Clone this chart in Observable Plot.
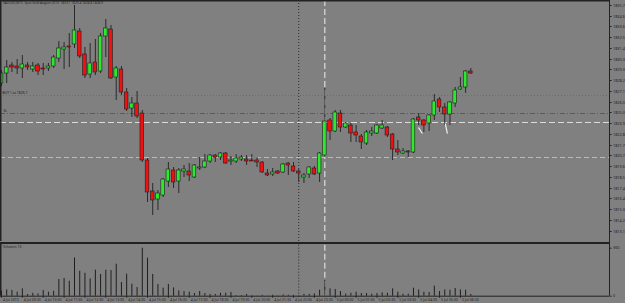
<!DOCTYPE html>
<html><head><meta charset="utf-8">
<script src="https://cdn.jsdelivr.net/npm/d3@7"></script>
<script src="https://cdn.jsdelivr.net/npm/@observablehq/plot@0.6"></script>
<style>
html,body{margin:0;padding:0;background:#808080;}
#chart{position:relative;width:625px;height:303px;overflow:hidden;background:#808080;font-family:"Liberation Sans",Arial,sans-serif;}
#chart svg{display:block;position:absolute;left:0;}
</style></head><body><div id="chart"></div>
<script>
// ---- data ----
const opens = [1827.9,1828.9,1829.7,1829.6,1829.4,1829.7,1829.3,1829.7,1829.4,1829.4,
1829.6,1830.4,1831.3,1831.6,1831.8,1833.1,1830.8,1828.8,1830.0,1829.1,
1832.6,1833.3,1828.5,1829.3,1827.0,1825.4,1825.9,1824.9,1820.2,1817.1,
1816.3,1816.7,1818.1,1819.2,1818.1,1819.1,1819.1,1818.5,1819.4,1819.5,
1820.1,1820.7,1820.5,1820.9,1820.1,1820.1,1820.3,1820.3,1820.2,1820.2,
1820.0,1818.9,1818.8,1819.1,1819.0,1819.9,1819.6,1819.1,1818.5,1818.8,
1819.4,1818.9,1820.7,1824.2,1823.1,1824.9,1823.5,1823.7,1823.0,1822.6,
1821.9,1822.9,1822.9,1823.4,1823.5,1822.8,1821.3,1820.9,1821.1,1821.0,
1824.5,1824.2,1823.9,1824.7,1826.3,1825.5,1824.8,1825.9,1827.3,1827.5,
1829.1];
const highs = [1829.2,1830.2,1830.0,1830.3,1830.7,1830.0,1830.0,1829.9,1829.9,1829.9,
1830.7,1832.1,1832.0,1832.9,1835.7,1833.4,1831.5,1831.9,1832.3,1832.9,
1834.3,1833.7,1829.6,1829.6,1827.4,1826.5,1827.1,1825.2,1820.4,1817.9,
1817.2,1818.4,1820.0,1819.5,1819.4,1819.7,1819.9,1819.8,1820.5,1820.8,
1820.8,1820.8,1821.0,1821.0,1820.6,1820.8,1820.7,1820.7,1820.8,1820.5,
1820.1,1819.3,1819.4,1819.2,1819.9,1820.0,1820.0,1819.3,1818.9,1819.6,
1819.6,1821.0,1827.4,1824.4,1825.2,1825.2,1824.0,1823.9,1823.7,1822.8,
1823.2,1823.5,1823.8,1824.2,1823.6,1822.9,1822.2,1821.4,1821.2,1824.4,
1824.9,1824.3,1824.8,1826.8,1826.5,1825.9,1826.1,1827.5,1828.5,1829.2,
1829.4];
const lows = [1827.6,1827.9,1829.0,1828.8,1828.4,1829.2,1829.0,1828.7,1828.7,1829.1,
1829.4,1830.0,1829.3,1829.5,1831.4,1830.4,1828.4,1828.4,1828.7,1828.9,
1830.5,1828.3,1826.2,1826.7,1825.1,1824.5,1824.4,1820.0,1816.0,1814.7,
1815.2,1816.5,1817.5,1817.4,1816.9,1818.5,1818.1,1818.4,1819.2,1819.4,
1819.9,1820.0,1820.2,1819.8,1819.7,1819.9,1820.1,1819.7,1820.1,1819.5,
1818.9,1818.6,1818.6,1818.8,1818.9,1818.7,1819.0,1818.0,1817.9,1818.4,
1818.7,1818.0,1820.5,1822.2,1823.0,1823.0,1823.4,1822.0,1822.0,1821.3,
1821.7,1822.6,1822.8,1823.3,1822.5,1820.2,1820.7,1820.8,1820.5,1820.9,
1823.7,1823.0,1823.1,1824.2,1825.0,1823.7,1823.7,1825.5,1827.2,1826.9,
1828.8];
const closes = [1828.9,1829.5,1829.5,1829.4,1829.8,1829.5,1829.6,1829.1,1829.3,1829.6,
1830.5,1831.4,1831.5,1831.5,1833.2,1830.6,1828.7,1829.9,1829.0,1832.6,
1833.4,1828.4,1829.4,1827.0,1825.3,1825.9,1824.6,1820.2,1817.0,1816.2,
1816.9,1818.3,1819.3,1818.0,1819.2,1819.3,1818.7,1819.7,1819.5,1820.1,
1820.7,1820.5,1820.9,1819.9,1820.2,1820.4,1820.5,1820.1,1820.1,1820.0,
1819.0,1818.7,1819.0,1818.9,1819.8,1819.7,1819.1,1818.9,1818.7,1819.5,
1818.8,1820.9,1824.1,1823.1,1825.0,1823.5,1823.9,1822.9,1822.7,1822.0,
1823.0,1823.1,1823.7,1823.7,1822.7,1821.3,1821.0,1821.1,1821.0,1824.3,
1824.2,1823.7,1824.7,1826.1,1825.5,1824.8,1826.0,1827.2,1827.5,1829.1,
1828.9];
const volumes = [37,47,43,30,55,13,22,17,43,30,
37,125,133,112,287,187,172,130,195,163,
195,192,240,103,165,90,65,360,285,163,
88,60,88,62,40,35,30,20,35,20,
13,13,22,22,28,5,5,13,2,2,
7,2,7,2,10,7,7,2,14,14,
17,45,118,55,50,35,15,22,30,20,
20,15,20,25,22,55,30,15,15,60,
47,30,28,75,35,47,45,58,47,45,
13];
const priceTicks = [1835.7,1834.6,1833.6,1832.5,1831.4,1830.3,1829.3,1828.2,1827.1,1826.0,1825.0,
1823.9,1822.8,1821.7,1820.7,1819.6,1818.5,1817.4,1816.4,1815.3,1814.2,1813.1];
const volumeTicks = [0, 360];
const timeTickBars = [0,4,8,12,16,20,24,28,32,36,40,44,48,52,56,60,64,68,72,76,80,84,88];
const timeTickLabels = ["4 Jul 2013","4 Jul 09:30","4 Jul 10:30","4 Jul 11:30","4 Jul 12:30","4 Jul 13:30",
"4 Jul 14:30","4 Jul 15:30","4 Jul 16:30","4 Jul 17:30","4 Jul 18:30","4 Jul 19:30","4 Jul 20:30",
"4 Jul 21:30","4 Jul 22:30","4 Jul 23:30","5 Jul 00:30","5 Jul 01:30","5 Jul 02:30","5 Jul 03:30",
"5 Jul 04:30","5 Jul 05:30","5 Jul 06:30"];
const buyLevel = [1826.7];
const stopLevel = [1824.9];
const entryLevel = [1824.0];
const lowLevel = [1820.5];
const cursorBar = [57];
const separatorBar = [62];
const tradeX1 = [79.96, 85.1], tradeY1 = [1823.5, 1823.9], tradeX2 = [80.7, 85.5], tradeY2 = [1822.9, 1822.9];
const titleText = "XAUUSD,M15  Spot Gold August 2013  1829.1 1829.4 1828.8 1828.9";
const volumeTitle = "Volumes 13";

// ---- build tables ----
const bars = opens.map((o, i) => ({i, o, h: highs[i], l: lows[i], c: closes[i], v: volumes[i], up: closes[i] >= o}));
const timeTicks = timeTickBars.map((b, k) => ({b, label: timeTickLabels[k]}));
const trades = tradeX1.map((x, k) => ({x1: x, y1: tradeY1[k], x2: tradeX2[k], y2: tradeY2[k]}));

const XMIN = -0.192, XMAX = 116.59;
const W = 625;
const dark = "#222";
const fs = 3.8;

const priceChart = Plot.plot({
  width: W, height: 244,
  marginLeft: 0, marginRight: 16, marginTop: 0, marginBottom: 3,
  style: {background: "transparent", overflow: "visible"},
  x: {domain: [XMIN, XMAX], axis: null},
  y: {domain: [1812.1, 1836.2], axis: null},
  marks: [
    Plot.ruleY(buyLevel, {stroke: "#2a9a2a", strokeDasharray: "1,2", strokeWidth: 1}),
    Plot.ruleY(stopLevel, {stroke: "#c03030", strokeDasharray: "5,2,1,2", strokeWidth: 1}),
    Plot.ruleY(entryLevel, {stroke: "#dcdcdc", strokeDasharray: "6,3", strokeWidth: 1.2}),
    Plot.ruleY(lowLevel, {stroke: "#c8c850", strokeDasharray: "5,3", strokeWidth: 1}),
    Plot.ruleX(cursorBar, {stroke: "#2a2a2a", strokeDasharray: "1,2", strokeWidth: 1}),
    Plot.ruleX(separatorBar, {stroke: "#dcdcdc", strokeDasharray: "6,3", strokeWidth: 1.2}),
    Plot.text(["BUY 1 at 1826.7"], {frameAnchor: "left", y: () => buyLevel[0], text: d => d, dx: 2, dy: -2.5, textAnchor: "start", fontSize: 3.4, fill: dark}),
    Plot.text(["SL"], {frameAnchor: "left", y: () => stopLevel[0], text: d => d, dx: 3, dy: -2.5, textAnchor: "start", fontSize: 3.4, fill: dark}),
    Plot.ruleX(bars, {x: "i", y1: "l", y2: "h", stroke: "#2a2a2a", strokeWidth: 1}),
    Plot.rect(bars, {x1: d => d.i - 0.35, x2: d => d.i + 0.35, y1: "o", y2: "c",
      fill: d => d.up ? "#2ee82e" : "#f01010", stroke: "#1e1e1e", strokeWidth: 0.6}),
    Plot.link(trades, {x1: "x1", y1: "y1", x2: "x2", y2: "y2", stroke: "#f4f4f4", strokeWidth: 1.2}),
    // frame
    Plot.ruleY([1836.2], {stroke: dark, strokeWidth: 2}),
    Plot.ruleX([XMIN], {stroke: dark, strokeWidth: 2}),
    Plot.ruleY([1811.95], {stroke: dark, strokeWidth: 1.8}),
    Plot.ruleX([XMAX], {y1: 1836.2, y2: 1811.8, stroke: dark, strokeWidth: 1}),
    // right price axis
    Plot.link(priceTicks, {x1: XMAX, x2: XMAX + 0.4, y1: d => d, y2: d => d, stroke: dark, strokeWidth: 1}),
    Plot.text(priceTicks, {frameAnchor: "right", y: d => d, text: d => d.toFixed(1), dx: 3.5, textAnchor: "start", fontSize: fs, fill: dark}),
    Plot.text([titleText], {frameAnchor: "top-left", text: d => d, dx: 2.5, dy: 1.2, lineAnchor: "top", textAnchor: "start", fontSize: 3.2, fill: dark})
  ]
});
priceChart.style.top = "0px";

const volChart = Plot.plot({
  width: W, height: 59,
  marginLeft: 0, marginRight: 16, marginTop: 3.7, marginBottom: 7.3,
  style: {background: "transparent", overflow: "visible"},
  x: {domain: [XMIN, XMAX], axis: null},
  y: {domain: [0, 360], axis: null},
  marks: [
    Plot.ruleX(cursorBar, {y1: 383, y2: -20, stroke: "#2a2a2a", strokeDasharray: "1,2", strokeWidth: 1}),
    Plot.ruleX(separatorBar, {y1: 383, y2: 0, stroke: "#dcdcdc", strokeDasharray: "6,3", strokeWidth: 1.2}),
    Plot.ruleX(bars, {x: "i", y1: 0, y2: "v", stroke: "#1e1e1e", strokeWidth: 1}),
    Plot.ruleY([0], {stroke: dark, strokeWidth: 1}),
    Plot.ruleX([XMIN], {y1: 390, y2: 0, stroke: dark, strokeWidth: 2}),
    Plot.ruleX([XMAX], {y1: 390, y2: 0, stroke: dark, strokeWidth: 1}),
    Plot.link(volumeTicks, {x1: XMAX, x2: XMAX + 0.4, y1: d => d, y2: d => d, stroke: dark}),
    Plot.text(volumeTicks, {frameAnchor: "right", y: d => d, text: d => String(d), dx: 3.5, textAnchor: "start", fontSize: fs, fill: dark}),
    Plot.text([volumeTitle], {frameAnchor: "top-left", text: d => d, dx: 2.5, dy: -1.2, lineAnchor: "middle", textAnchor: "start", fontSize: 3.4, fill: dark}),
    // time axis
    Plot.ruleX(timeTicks, {x: "b", y1: 0, y2: -15, stroke: dark, strokeWidth: 1}),
    Plot.text(timeTicks, {x: "b", frameAnchor: "bottom", text: "label", dx: 1.5, dy: 3.6, lineAnchor: "middle", textAnchor: "start", fontSize: 3.5, fill: dark})
  ]
});
volChart.style.top = "244px";

const root = document.getElementById("chart");
root.appendChild(priceChart);
root.appendChild(volChart);
</script></body></html>
